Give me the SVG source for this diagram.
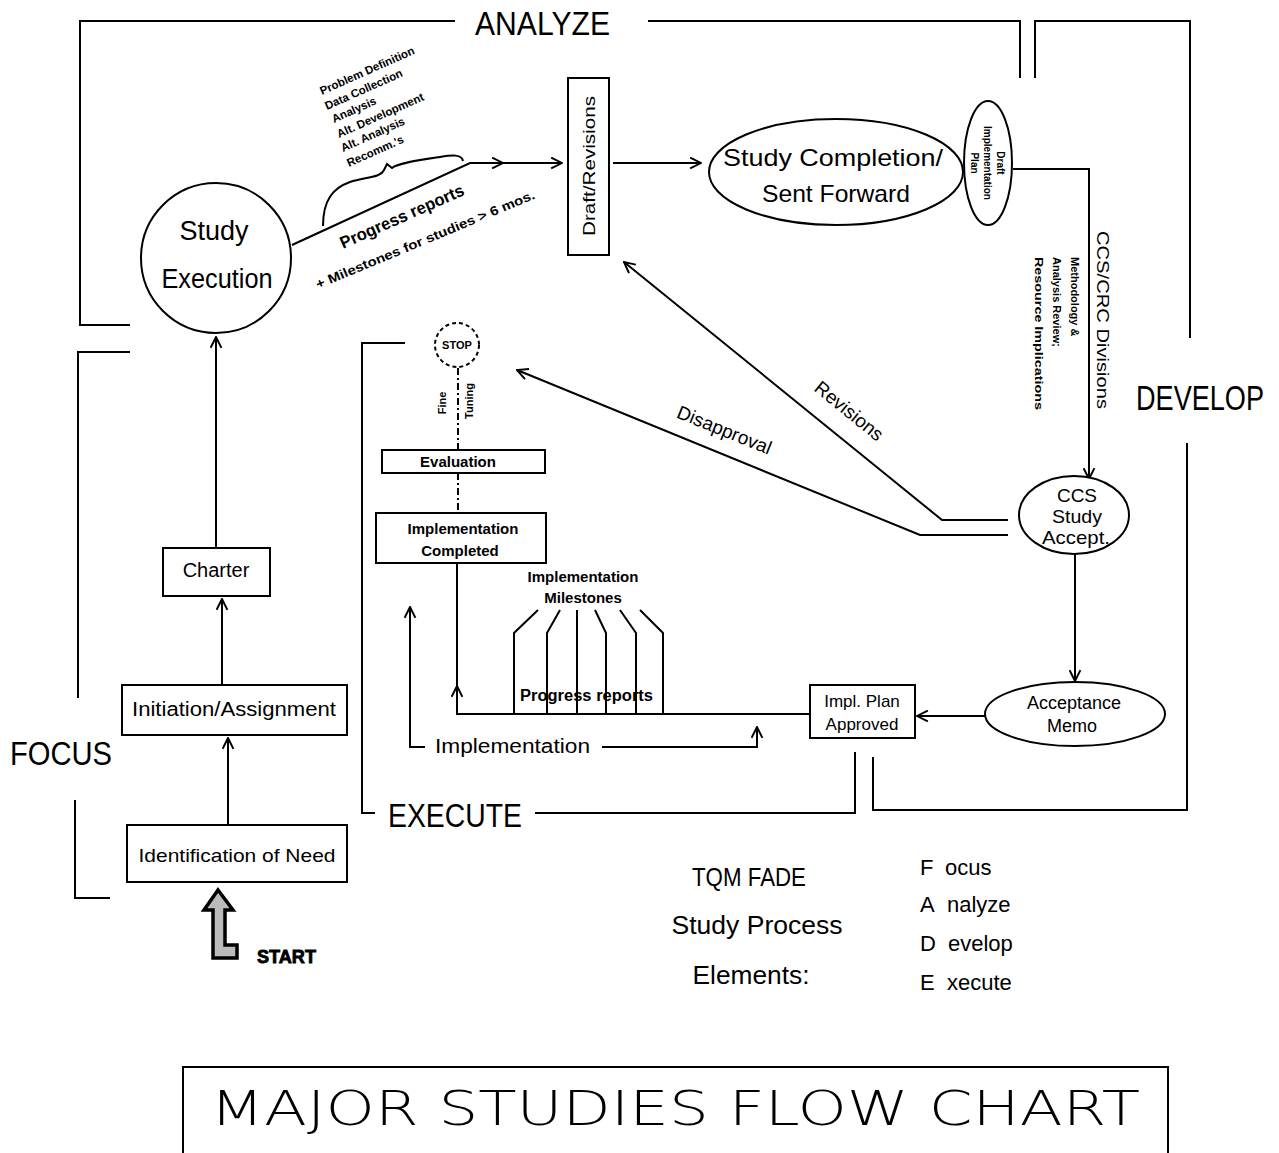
<svg xmlns="http://www.w3.org/2000/svg" width="1279" height="1153" viewBox="0 0 1279 1153">
  <style>
    .ln { fill: none; stroke: #000; stroke-width: 2; }
    .nd { fill: #fff; stroke: #000; stroke-width: 2; }
    .t { font-family: "Liberation Sans", Arial, sans-serif; fill: #000; }
    .b { font-family: "Liberation Sans", Arial, sans-serif; font-weight: bold; fill: #000; }
    .c { text-anchor: middle; }
  </style>
  <defs>
    <marker id="arr" viewBox="0 0 12 12" refX="11" refY="6" markerWidth="13" markerHeight="13" markerUnits="userSpaceOnUse" orient="auto">
      <path d="M1,1 L11,6 L1,11" fill="none" stroke="#000" stroke-width="1.8"/>
    </marker>
  </defs>
  <rect width="1279" height="1153" fill="#fff"/>

  <!-- phase frames -->
  <g id="frames" class="ln">
    <path d="M455,21 H80 V325 H130"/>
    <path d="M648,21 H1020 V78"/>
    <path d="M1035,78 V21 H1190 V338"/>
    <path d="M1187,443 V810 H873 V757"/>
    <path d="M855,752 V813 H535"/>
    <path d="M375,813 H362 V343 H405"/>
    <path d="M130,352 H78 V698"/>
    <path d="M75,800 V898 H110"/>
  </g>
  <g id="phase-labels">
    <text class="t" x="475" y="35" font-size="34" textLength="135" lengthAdjust="spacingAndGlyphs">ANALYZE</text>
    <text class="t" x="0" y="0" font-size="27" transform="translate(1136 410) scale(1 1.28)" textLength="128" lengthAdjust="spacingAndGlyphs">DEVELOP</text>
    <text class="t" x="388" y="827" font-size="34" textLength="134" lengthAdjust="spacingAndGlyphs">EXECUTE</text>
    <text class="t" x="10" y="765" font-size="34" textLength="102" lengthAdjust="spacingAndGlyphs">FOCUS</text>
  </g>

  <!-- connectors -->
  <g id="connectors" class="ln">
    <path d="M216,548 V337" marker-end="url(#arr)"/>
    <path d="M222,685 V599" marker-end="url(#arr)"/>
    <path d="M228,825 V738" marker-end="url(#arr)"/>
    <path d="M292,245 L470,163 H503" marker-end="url(#arr)"/>
    <path d="M500,163 H562" marker-end="url(#arr)"/>
    <path d="M613,163 H701" marker-end="url(#arr)"/>
    <path d="M1013,169 H1089 V479" marker-end="url(#arr)"/>
    <path d="M1008,520 H942 L624,262" marker-end="url(#arr)"/>
    <path d="M1008,535 H920 L517,370" marker-end="url(#arr)"/>
    <path d="M1075,553 V681" marker-end="url(#arr)"/>
    <path d="M985,716 H917" marker-end="url(#arr)"/>
    <path d="M810,714 H457 V564"/>
    <path d="M457,700 V686" marker-end="url(#arr)"/>
    <path d="M458,368 V450 M458,473 V513" stroke-dasharray="7,3,2,3"/>
    <path d="M514,714 V633 L538,610 M547,714 V633 L560,610 M577,714 V610 M606,714 V633 L595,610 M636,714 V633 L620,610 M663,714 V633 L640,610"/>
    <path d="M425,747 H410 V607" marker-end="url(#arr)"/>
    <path d="M602,747 H757 V727" marker-end="url(#arr)"/>
    <!-- brace over the study steps -->
    <path d="M323,226 C323,200 333,188 350,182 C365,177 380,178 384,170 L387,164 L392,168 C398,163 420,160 440,157 C452,155 462,154 463,161"/>
  </g>

  <g id="connector-labels">
    <g class="b" font-size="11.5">
      <text x="322" y="95" transform="rotate(-24 322 95)">Problem Definition</text>
      <text x="327" y="110" transform="rotate(-24 327 110)">Data Collection</text>
      <text x="334" y="123" transform="rotate(-24 334 123)">Analysis</text>
      <text x="339" y="138" transform="rotate(-24 339 138)">Alt. Development</text>
      <text x="343" y="152" transform="rotate(-24 343 152)">Alt. Analysis</text>
      <text x="349" y="167" transform="rotate(-24 349 167)">Recomm.'s</text>
    </g>
    <text class="b" font-size="17" x="343" y="249" transform="rotate(-24 343 249)" textLength="134" lengthAdjust="spacingAndGlyphs">Progress reports</text>
    <text class="b" font-size="13" x="318" y="289" transform="rotate(-22.6 318 289)" textLength="236" lengthAdjust="spacingAndGlyphs">+ Milestones for studies &gt; 6 mos.</text>
    <text class="t c" font-size="17" x="1103" y="320" transform="rotate(90 1103 320)" dy="6" textLength="178" lengthAdjust="spacingAndGlyphs">CCS/CRC Divisions</text>
    <g class="b" font-size="11">
      <text x="1071" y="257" transform="rotate(90 1071 257)">Methodology &amp;</text>
      <text x="1053" y="257" transform="rotate(90 1053 257)">Analysis Review;</text>
      <text x="1035" y="257" transform="rotate(90 1035 257)" textLength="153" lengthAdjust="spacingAndGlyphs">Resource Implications</text>
    </g>
    <text class="t c" font-size="19" x="845" y="416" transform="rotate(39 845 416)">Revisions</text>
    <text class="t c" font-size="19" x="722" y="436" transform="rotate(22 722 436)">Disapproval</text>
    <text class="b c" font-size="11" x="442" y="403" dy="4" transform="rotate(-90 442 403)">Fine</text>
    <text class="b c" font-size="11" x="469" y="401" dy="4" transform="rotate(-90 469 401)">Tuning</text>
    <text class="b c" font-size="15" x="583" y="582">Implementation</text>
    <text class="b c" font-size="15" x="583" y="603">Milestones</text>
    <text class="t" font-size="16" x="520" y="701" textLength="133" lengthAdjust="spacingAndGlyphs" font-weight="bold">Progress reports</text>
    <text class="t" font-size="20" x="435" y="753" textLength="155" lengthAdjust="spacingAndGlyphs">Implementation</text>
  </g>

  <!-- nodes -->
  <g id="study-execution">
    <circle class="nd" cx="216" cy="258" r="75"/>
    <text class="t c" font-size="27" x="214" y="240">Study</text>
    <text class="t c" font-size="27" x="217" y="288" textLength="111" lengthAdjust="spacingAndGlyphs">Execution</text>
  </g>
  <g id="charter">
    <rect class="nd" x="163" y="548" width="107" height="48"/>
    <text class="t c" font-size="20" x="216" y="577">Charter</text>
  </g>
  <g id="initiation">
    <rect class="nd" x="122" y="685" width="225" height="50"/>
    <text class="t c" font-size="20" x="234" y="716" textLength="204" lengthAdjust="spacingAndGlyphs">Initiation/Assignment</text>
  </g>
  <g id="identification">
    <rect class="nd" x="127" y="825" width="220" height="57" stroke-width="3.5"/>
    <text class="t c" font-size="19" x="237" y="862" textLength="197" lengthAdjust="spacingAndGlyphs">Identification of Need</text>
  </g>
  <g id="start">
    <path d="M218,890 L233,910 L225,910 L225,945 L237,945 L237,958 L213,958 L213,910 L204,910 Z" fill="#bbb" stroke="#000" stroke-width="3.5" stroke-linejoin="miter"/>
    <text class="b" font-size="18" x="257" y="963" textLength="59" lengthAdjust="spacingAndGlyphs" stroke="#000" stroke-width="0.8">START</text>
  </g>
  <g id="draft-revisions">
    <rect class="nd" x="568" y="78" width="41" height="177"/>
    <text class="t c" font-size="17" x="589" y="166" dy="6" transform="rotate(-90 589 166)" textLength="140" lengthAdjust="spacingAndGlyphs">Draft/Revisions</text>
  </g>
  <g id="study-completion">
    <ellipse class="nd" cx="836" cy="172" rx="127" ry="53"/>
    <text class="t c" font-size="24" x="833" y="166" textLength="220" lengthAdjust="spacingAndGlyphs">Study Completion/</text>
    <text class="t c" font-size="24" x="836" y="202" textLength="148" lengthAdjust="spacingAndGlyphs">Sent Forward</text>
  </g>
  <g id="draft-impl-plan">
    <ellipse class="nd" cx="988" cy="163" rx="24" ry="62"/>
    <g class="b c" font-size="10">
      <text x="1000" y="163" dy="3.5" transform="rotate(90 1000 163)">Draft</text>
      <text x="987" y="163" dy="3.5" transform="rotate(90 987 163)">Implementation</text>
      <text x="974" y="163" dy="3.5" transform="rotate(90 974 163)">Plan</text>
    </g>
  </g>
  <g id="ccs-accept">
    <ellipse class="nd" cx="1074" cy="515" rx="55" ry="39"/>
    <text class="t c" font-size="19" x="1077" y="502" textLength="40" lengthAdjust="spacingAndGlyphs">CCS</text>
    <text class="t c" font-size="19" x="1077" y="523" textLength="50" lengthAdjust="spacingAndGlyphs">Study</text>
    <text class="t c" font-size="19" x="1076" y="544" textLength="68" lengthAdjust="spacingAndGlyphs">Accept.</text>
  </g>
  <g id="acceptance-memo">
    <ellipse class="nd" cx="1075" cy="714" rx="90" ry="32"/>
    <text class="t c" font-size="18" x="1074" y="709">Acceptance</text>
    <text class="t c" font-size="18" x="1072" y="732">Memo</text>
  </g>
  <g id="impl-plan-approved">
    <rect class="nd" x="810" y="685" width="105" height="53"/>
    <text class="t c" font-size="17" x="862" y="707">Impl. Plan</text>
    <text class="t c" font-size="17" x="862" y="730">Approved</text>
  </g>
  <g id="impl-completed">
    <rect class="nd" x="376" y="513" width="170" height="50"/>
    <text class="b c" font-size="15" x="463" y="534">Implementation</text>
    <text class="b c" font-size="15" x="460" y="556">Completed</text>
  </g>
  <g id="evaluation">
    <rect class="nd" x="382" y="450" width="163" height="23"/>
    <text class="b c" font-size="15" x="458" y="467">Evaluation</text>
  </g>
  <g id="stop">
    <circle cx="457" cy="345" r="22" fill="#fff" stroke="#000" stroke-width="2" stroke-dasharray="4,3"/>
    <text class="b c" font-size="11" x="457" y="349">STOP</text>
  </g>

  <!-- key -->
  <g id="legend">
    <text class="t c" font-size="25" x="749" y="886" textLength="114" lengthAdjust="spacingAndGlyphs">TQM FADE</text>
    <text class="t c" font-size="25" x="757" y="934" textLength="171" lengthAdjust="spacingAndGlyphs">Study Process</text>
    <text class="t c" font-size="25" x="751" y="984" textLength="117" lengthAdjust="spacingAndGlyphs">Elements:</text>
    <g class="t" font-size="22">
      <text x="920" y="875">F<tspan x="945">ocus</tspan></text>
      <text x="920" y="912">A<tspan x="947">nalyze</tspan></text>
      <text x="920" y="951">D<tspan x="948">evelop</tspan></text>
      <text x="920" y="990">E<tspan x="947">xecute</tspan></text>
    </g>
  </g>

  <g id="title">
    <path class="ln" d="M183,1153 V1067 H1168 V1153"/>
    <text x="210" y="1125" font-family="'DejaVu Sans', 'Liberation Sans', sans-serif" font-weight="200" font-size="48" textLength="930" lengthAdjust="spacingAndGlyphs">MAJOR STUDIES FLOW CHART</text>
  </g>
</svg>
